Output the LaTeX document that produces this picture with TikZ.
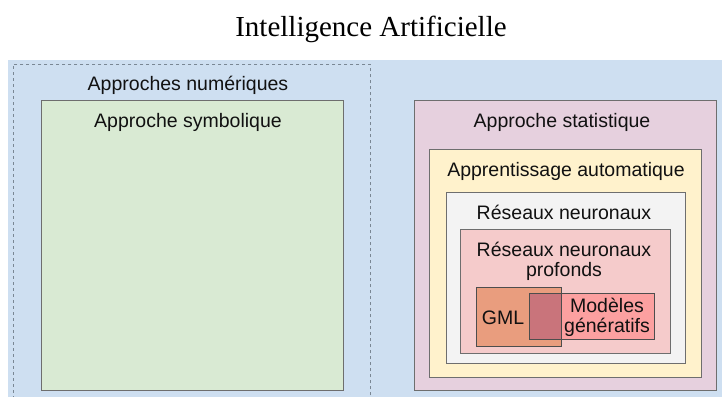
\documentclass[tikz,border=0pt]{standalone}
\usepackage{fontspec}
\setmainfont{Liberation Serif}
\newfontfamily\lsans{Liberation Sans}
\definecolor{bgblue}{HTML}{CEDFF1}
\definecolor{symgreen}{HTML}{D9EAD3}
\definecolor{statpink}{HTML}{E6D0DE}
\definecolor{mlyellow}{HTML}{FFF2CC}
\definecolor{nngray}{HTML}{F3F3F3}
\definecolor{dnnpink}{HTML}{F5CBCB}
\definecolor{gmlorange}{HTML}{E99D7E}
\definecolor{genred}{HTML}{FCA0A0}
\definecolor{overlapc}{HTML}{C9747B}
\definecolor{boxline}{HTML}{6E6E6E}
\definecolor{dashline}{HTML}{7A8794}
\definecolor{txt}{HTML}{111111}
\tikzset{
  box/.style={rectangle, draw=boxline, line width=0.8pt, inner sep=0pt, anchor=north west},
  lbl/.style={font=\lsans\fontsize{19.5}{20}\selectfont, text=txt, inner sep=0pt, anchor=base, align=center},
}
\begin{document}
\begin{tikzpicture}[x=1pt,y=-1pt]
\useasboundingbox (0,0) rectangle (722,396);
\clip (0,0) rectangle (722,396);
\fill[bgblue] (8,60) rectangle (722,400);
\node[box, draw=dashline, dashed, dash pattern=on 3pt off 3pt, minimum width=357pt, minimum height=340pt] (num) at (13,64) {};
\node[box, fill=symgreen, minimum width=302.5pt, minimum height=290pt] (sym) at (40.5,100) {};
\node[box, fill=statpink, draw=boxline, minimum width=302pt, minimum height=290pt] (stat) at (414,100) {};
\node[box, fill=mlyellow, minimum width=272pt, minimum height=228pt] (ml) at (429,149) {};
\node[box, fill=nngray, minimum width=239pt, minimum height=171pt] (nn) at (446,192) {};
\node[box, fill=dnnpink, minimum width=210pt, minimum height=124pt] (dnn) at (460,229) {};
\node[box, draw=none, fill=gmlorange, minimum width=85pt, minimum height=59pt] (gml) at (476,287) {};
\node[box, draw=none, fill=genred, minimum width=125pt, minimum height=46pt] (gen) at (529,293) {};
\node[box, draw=none, fill=overlapc, minimum width=32pt, minimum height=46pt] (ovl) at (529,293) {};
\draw[boxline!70!black, line width=0.8pt] (gml.north west) rectangle (gml.south east);
\draw[boxline!70!black, line width=0.8pt] (gen.north west) rectangle (gen.south east);
\node[font=\fontsize{29}{31}\selectfont, anchor=base, inner sep=0pt] (title) at (371,37) {Intelligence Artificielle};
\node[lbl] (numlbl) at (188,90) {Approches numériques};
\node[lbl] (symlbl) at (188,127) {Approche symbolique};
\node[lbl] (statlbl) at (562,127) {Approche statistique};
\node[lbl] (mllbl) at (566,176.5) {Apprentissage automatique};
\node[lbl] (nnlbl) at (564,219) {Réseaux neuronaux};
\node[lbl] (dnnlbl) at (564,276) {Réseaux neuronaux\\profonds};
\node[lbl] (gmllbl) at (503,324) {GML};
\node[lbl] (genlbl) at (607,332) {Modèles\\génératifs};
\end{tikzpicture}
\end{document}
